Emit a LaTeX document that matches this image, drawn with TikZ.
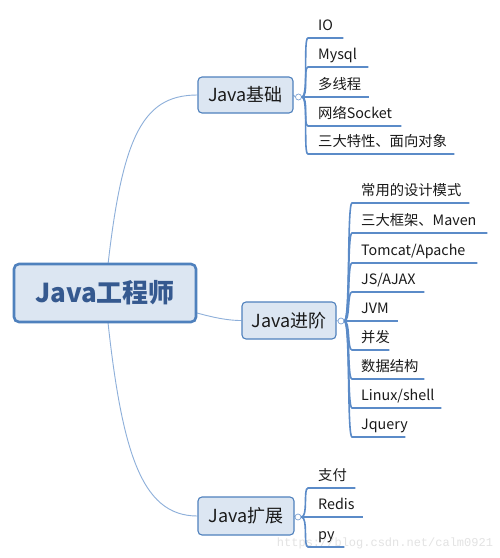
\documentclass[tikz,border=0pt]{standalone}
\usepackage{fontspec}
\setmainfont{Noto Sans CJK SC}
\newfontfamily\wmfont{Liberation Mono}
\usetikzlibrary{backgrounds}
\definecolor{boxborder}{HTML}{4F81BD}
\definecolor{boxfill}{HTML}{DCE6F2}
\definecolor{roottext}{HTML}{35598F}
\definecolor{rootline}{HTML}{8DAFDA}
\definecolor{branchline}{HTML}{5B8BC8}
\definecolor{leaftext}{HTML}{1A1A1A}
\tikzset{
  rootbox/.style={draw=boxborder, line width=2.6pt, fill=boxfill, rounded corners=5pt,
    minimum width=182pt, minimum height=58pt, inner sep=0pt,
    font=\fontsize{26}{30}\selectfont\bfseries, text=roottext},
  midbox/.style={draw=boxborder, line width=1.1pt, fill=boxfill, rounded corners=4pt,
    inner sep=0pt, font=\fontsize{18}{22}\selectfont, text=leaftext},
  knob/.style={circle, draw=branchline!80, fill=white, line width=0.7pt, minimum size=6pt, inner sep=0pt},
  leaf/.style={anchor=south west, inner ysep=3.5pt, text height=10.5pt, text depth=4pt,
    align=left, font=\fontsize{14.3}{17}\selectfont, text=leaftext},
  trunk/.style={draw=rootline, line width=0.9pt},
  branch/.style={draw=branchline, line width=1.6pt},
  wm/.style={font=\wmfont\fontsize{12}{14}\selectfont, text=gray!22, inner sep=0pt}
}
\begin{document}
\begin{tikzpicture}[x=1pt,y=-1pt]
\useasboundingbox (0,0) rectangle (500,558);

% main nodes
\node[rootbox] (root) at (105,293) {Java工程师};
\node[midbox, minimum width=95pt, minimum height=36pt] (jichu) at (245.5,95) {Java基础};
\node[midbox, minimum width=94pt, minimum height=37pt] (jinjie) at (289,320.5) {Java进阶};
\node[midbox, minimum width=96pt, minimum height=38pt] (kuozhan) at (246,516) {Java扩展};

\node[knob] (c1) at (298.5,97) {};
\node[knob] (c2) at (341,321) {};
\node[knob] (c3) at (298,517) {};

% Java基础 children (start x 308)
\node[leaf, inner xsep=10pt, text width=15pt]  (a1) at (308,38)  {IO};
\node[leaf, inner xsep=10pt, text width=40pt]  (a2) at (308,67)  {Mysql};
\node[leaf, inner xsep=10pt, text width=41pt]  (a3) at (308,97)  {多线程};
\node[leaf, inner xsep=10pt, text width=73pt]  (a4) at (308,126) {网络Socket};
\node[leaf, inner xsep=10pt, text width=126pt] (a5) at (308,154) {三大特性、面向对象};

% Java进阶 children (start x 352)
\node[leaf, inner xsep=9pt, text width=99pt]  (b1) at (352,203) {常用的设计模式};
\node[leaf, inner xsep=9pt, text width=117pt] (b2) at (352,233) {三大框架、Maven};
\node[leaf, inner xsep=9pt, text width=107pt] (b3) at (352,263) {Tomcat/Apache};
\node[leaf, inner xsep=9pt, text width=54pt]  (b4) at (352,292) {JS/AJAX};
\node[leaf, inner xsep=9pt, text width=28pt]  (b5) at (352,321) {JVM};
\node[leaf, inner xsep=9pt, text width=19pt]  (b6) at (352,350) {并发};
\node[leaf, inner xsep=9pt, text width=54pt]  (b7) at (352,379) {数据结构};
\node[leaf, inner xsep=9pt, text width=71pt]  (b8) at (352,408) {Linux/shell};
\node[leaf, inner xsep=9pt, text width=35pt]  (b9) at (352,437) {Jquery};

% Java扩展 children (start x 308)
\node[leaf, inner xsep=10pt, text width=27pt] (d1) at (308,488) {支付};
\node[leaf, inner xsep=10pt, text width=35pt] (d2) at (308,517) {Redis};
\node[leaf, inner xsep=10pt, text width=16pt] (d3) at (308,547) {py};

\node[wm] (wmark) at (385,543) {https://blog.csdn.net/calm0921};

\begin{pgfonlayer}{background}
  \fill[white] (0,0) rectangle (500,558);
  \draw[trunk] (root.center) .. controls (120,140) and (140,95) .. (jichu.west);
  \draw[trunk] (root.center) .. controls (170,300) and (205,320.5) .. (jinjie.west);
  \draw[trunk] (root.center) .. controls (120,450) and (140,516) .. (kuozhan.west);
  \draw[trunk] (jichu.east) -- (c1.west);
  \draw[trunk] (jinjie.east) -- (c2.west);
  \draw[trunk] (kuozhan.east) -- (c3.west);
\end{pgfonlayer}

\foreach \n in {a1,a2,a3,a4,a5}
  \draw[branch] (c1.east) .. controls +(7,0) and +(-5,0) .. (\n.south west) -- (\n.south east);
\foreach \n in {b1,b2,b3,b4,b5,b6,b7,b8,b9}
  \draw[branch] (c2.east) .. controls +(6,0) and +(-5,0) .. (\n.south west) -- (\n.south east);
\foreach \n in {d1,d2,d3}
  \draw[branch] (c3.east) .. controls +(7,0) and +(-5,0) .. (\n.south west) -- (\n.south east);
\end{tikzpicture}
\end{document}
